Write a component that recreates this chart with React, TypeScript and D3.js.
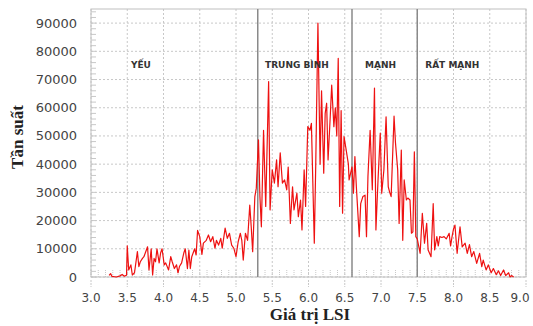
import React from "react";
import * as d3 from "d3";

const lsi: number[] = [
  3.25, 3.27, 3.29, 3.35, 3.4, 3.43, 3.46, 3.49,
  3.5, 3.52, 3.55, 3.57, 3.6, 3.64, 3.66, 3.68, 3.71, 3.73, 3.76, 3.78, 3.8,
  3.83, 3.85, 3.87, 3.89, 3.91, 3.94, 3.96, 3.98, 4.01, 4.03, 4.07, 4.1, 4.12,
  4.15, 4.18, 4.2, 4.22, 4.25, 4.28, 4.3, 4.33, 4.35, 4.37, 4.39, 4.43, 4.45,
  4.47, 4.5, 4.53, 4.55, 4.59, 4.62, 4.65, 4.68, 4.71, 4.73, 4.76, 4.79, 4.81,
  4.85, 4.88, 4.91, 4.94, 4.97, 5.0, 5.03, 5.06, 5.08, 5.1, 5.13, 5.16, 5.19,
  5.21, 5.23, 5.26, 5.28, 5.31, 5.33, 5.35, 5.38, 5.41, 5.45, 5.47, 5.5, 5.53,
  5.56, 5.58, 5.61, 5.64, 5.67, 5.7, 5.72, 5.75, 5.78, 5.8, 5.84, 5.86, 5.89,
  5.91, 5.94, 5.96, 5.99, 6.02, 6.04, 6.08, 6.1, 6.13, 6.16, 6.18, 6.21, 6.23,
  6.25, 6.27, 6.3, 6.32, 6.35, 6.37, 6.39, 6.41, 6.43, 6.45, 6.47, 6.49, 6.52,
  6.55, 6.56, 6.6, 6.62, 6.64, 6.66, 6.7, 6.72, 6.75, 6.78, 6.8, 6.82, 6.85,
  6.88, 6.91, 6.93, 6.96, 6.99, 7.01, 7.04, 7.07, 7.1, 7.12, 7.14, 7.18, 7.2,
  7.23, 7.25, 7.28, 7.3, 7.32, 7.35, 7.37, 7.4, 7.42, 7.44, 7.46, 7.48, 7.5,
  7.54, 7.57, 7.6, 7.63, 7.65, 7.69, 7.72, 7.74, 7.77, 7.79, 7.81, 7.84, 7.87,
  7.9, 7.94, 7.96, 7.98, 8.0, 8.02, 8.05, 8.09, 8.12, 8.16, 8.19, 8.22, 8.25,
  8.28, 8.32, 8.36, 8.39, 8.41, 8.45, 8.48, 8.52, 8.55, 8.59, 8.62, 8.65, 8.69,
  8.72, 8.76, 8.78, 8.8, 8.83,
];

const freq: number[] = [
  600, 1200, 200, 0, 400, 900, 300, 600,
  11000, 2500, 4300, 700, 1500, 9000, 3700, 5400, 6600, 7200, 9300, 10700, 2500,
  10000, 700, 6600, 5400, 10000, 5000, 8500, 10000, 4300, 5000, 2500, 7200, 5400,
  3000, 4300, 1500, 3700, 5000, 8500, 10000, 3000, 9500, 3000, 7200, 10000, 7800,
  16500, 14300, 8000, 12000, 13000, 14900, 12500, 14300, 10200, 13000, 11300, 13700, 10200,
  17300, 13700, 15500, 11300, 10200, 7200, 12500, 15500, 13000, 6000, 15500, 13000, 25500,
  17800, 9000, 28500, 31500, 48600, 28500, 17800, 52000, 25000, 69300, 23800, 38000, 33300,
  41500, 32000, 44000, 33300, 34400, 30900, 39000, 19000, 32000, 23800, 29700, 21400, 27300,
  16700, 38000, 25000, 53300, 52000, 54500, 12000, 40000, 90000, 40000, 66000, 36800, 58000,
  61600, 41500, 57000, 68000, 53300, 60000, 50000, 77500, 25000, 59000, 22600, 49800, 45000,
  40000, 34400, 39000, 29700, 42700, 32000, 14300, 26000, 28500, 29000, 14300, 35600, 52000,
  30900, 67000, 16700, 35000, 51000, 29700, 38000, 56800, 32000, 30000, 28500, 57000, 47500,
  38000, 19000, 45000, 13000, 34400, 27300, 28000, 27300, 15500, 16000, 44400, 14300, 13500,
  8400, 22600, 12000, 19000, 9600, 7200, 26000, 9600, 14300, 11000, 14300, 14000, 14300,
  13500, 15500, 11000, 14300, 17000, 18400, 8400, 17800, 10700, 12000, 8400, 11500, 7200,
  9000, 4800, 8400, 3700, 6000, 2500, 4300, 1500, 3000, 800, 2200, 500, 2500,
  500, 1500, 0, 500, 0,
];

const xTicks: number[] = [3.0, 3.5, 4.0, 4.5, 5.0, 5.5, 6.0, 6.5, 7.0, 7.5, 8.0, 8.5, 9.0];
const yTicks: number[] = [0, 10000, 20000, 30000, 40000, 50000, 60000, 70000, 80000, 90000];
const classBounds: number[] = [5.3, 6.6, 7.5];
const classLabels: string[] = ["YẾU", "TRUNG BÌNH", "MẠNH", "RẤT MẠNH"];
const classLabelX: number[] = [3.55, 5.4, 6.78, 7.61];

export default function App() {
  const W = 533, H = 326;
  const L = 91, R = 526, T = 9, B = 277;
  const x = d3.scaleLinear().domain([3, 9]).range([L, R]);
  const y = d3.scaleLinear().domain([0, 95000]).range([B, T]);
  const pts: [number, number][] = lsi.map((v, i) => [v, freq[i]]);
  const line = d3.line<[number, number]>().x(d => x(d[0])).y(d => y(d[1]));
  const minorX = d3.range(30, 91).map(v => v / 10);
  const minorY = d3.range(0, 95001, 2000);
  const grid = "#c8c8c8";
  return (
    <svg width={W} height={H} style={{ position: "absolute", left: 0, top: 0, background: "#fff" }}>
      {xTicks.map(t => (
        <line key={"gx" + t} x1={x(t)} x2={x(t)} y1={T} y2={B} stroke={grid} strokeWidth={1} strokeDasharray="2,2" />
      ))}
      {yTicks.map(t => (
        <line key={"gy" + t} x1={L} x2={R} y1={y(t)} y2={y(t)} stroke={grid} strokeWidth={1} strokeDasharray="2,2" />
      ))}
      {minorX.map(t => (
        <line key={"mx" + t} x1={x(t)} x2={x(t)} y1={B} y2={B - 8} stroke={grid} strokeWidth={1} strokeDasharray="1,1" />
      ))}
      {minorY.map(t => (
        <line key={"my" + t} x1={L} x2={L + 5} y1={y(t)} y2={y(t)} stroke={grid} strokeWidth={1} />
      ))}
      {xTicks.map(t => (
        <line key={"tx" + t} x1={x(t)} x2={x(t)} y1={B + 3} y2={B + 10} stroke={grid} strokeWidth={1} strokeDasharray="2,1" />
      ))}
      <rect x={L} y={T} width={R - L} height={B - T} fill="none" stroke="#c0c0c0" strokeWidth={1} />
      {classBounds.map(b => (
        <line key={"cb" + b} x1={x(b)} x2={x(b)} y1={T} y2={B} stroke="#8a8a8a" strokeWidth={1.5} />
      ))}
      <path d={line(pts) || ""} fill="none" stroke="#ee1111" strokeWidth={1.2} strokeLinejoin="round" />
      {classLabels.map((s, i) => (
        <text key={s} x={x(classLabelX[i])} y={68} fontFamily="DejaVu Sans" fontWeight="bold" fontSize={9} fill="#333">{s}</text>
      ))}
      {yTicks.map(t => (
        <text key={"ly" + t} x={77} y={y(t) + 4.5} textAnchor="end" fontFamily="DejaVu Sans" fontSize={13} fill="#444">{t}</text>
      ))}
      {xTicks.map(t => (
        <text key={"lx" + t} x={Math.min(x(t), 520)} y={302} textAnchor="middle" fontFamily="DejaVu Sans" fontSize={12} fill="#444">{t.toFixed(1)}</text>
      ))}
      <text x={310} y={320} textAnchor="middle" fontFamily="Liberation Serif" fontWeight="bold" fontSize={17} fill="#222">Giá trị LSI</text>
      <text transform={`translate(23,${137}) rotate(-90)`} textAnchor="middle" fontFamily="Liberation Serif" fontWeight="bold" fontSize={17} fill="#222">Tần suất</text>
    </svg>
  );
}
